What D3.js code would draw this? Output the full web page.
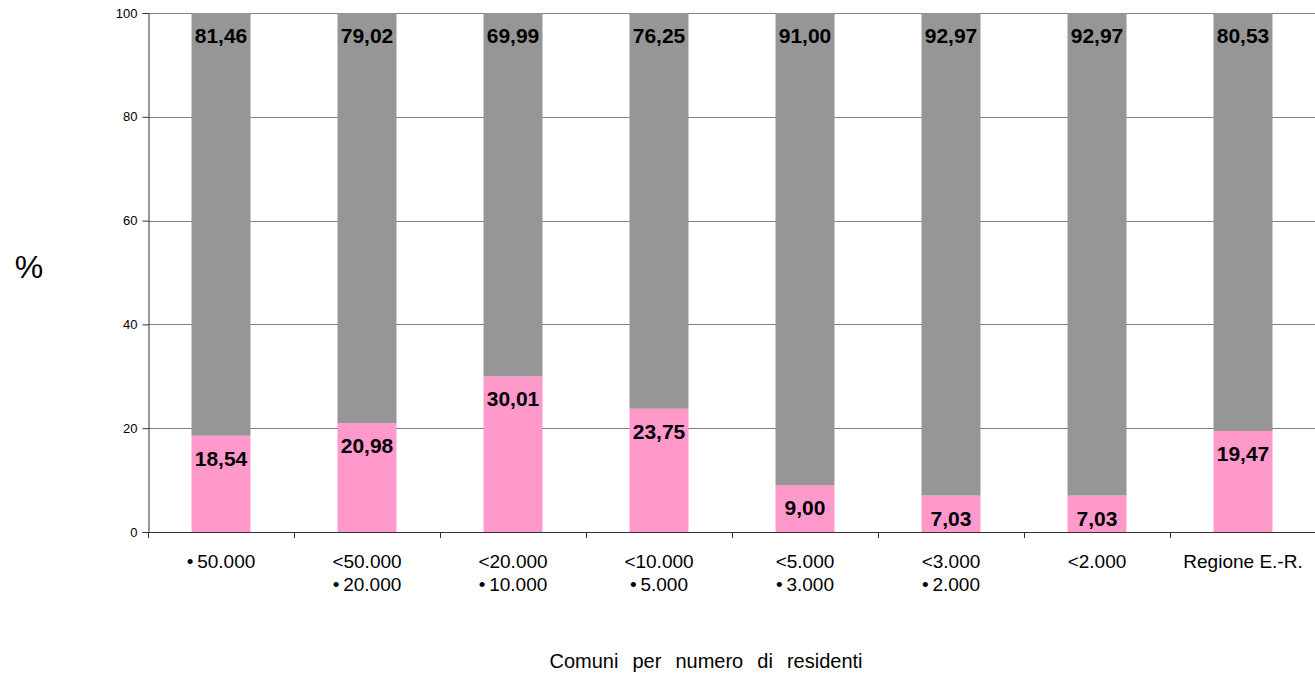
<!DOCTYPE html>
<html><head><meta charset="utf-8">
<script src="https://cdn.jsdelivr.net/npm/d3@7"></script>
<style>body{margin:0;background:#fff}svg{display:block}text{font-family:"Liberation Sans",Arial,sans-serif}</style>
</head><body><svg id="c" width="1315" height="675"></svg>
<script>
const categories = [["\u2022\u200950.000"],["<50.000","\u2022\u200920.000"],["<20.000","\u2022\u200910.000"],["<10.000","\u2022\u20095.000"],["<5.000","\u2022\u20093.000"],["<3.000","\u2022\u20092.000"],["<2.000"],["Regione E.-R."]];
const pinkValues = [18.54,20.98,30.01,23.75,9.00,7.03,7.03,19.47];
const greyValues = [81.46,79.02,69.99,76.25,91.00,92.97,92.97,80.53];
const yTicks = [0,20,40,60,80,100];
const fmt = v => v.toFixed(2).replace(".", ",");

const svg = d3.select("#c");
const mLeft = 148, mRight = 1316, mTop = 13, mBottom = 532;
const x = d3.scaleBand().domain(d3.range(categories.length)).range([mLeft, mRight]).paddingInner(0.596).paddingOuter(0.298);
const y = d3.scaleLinear().domain([0,100]).range([mBottom, mTop]);

// gridlines
svg.append("g").selectAll("line").data(yTicks.filter(d=>d>0)).join("line")
  .attr("x1", mLeft).attr("x2", 1315).attr("y1", d=>Math.round(y(d))+0.5).attr("y2", d=>Math.round(y(d))+0.5)
  .attr("stroke", "#808080").attr("stroke-width", 1);

// bars
const bw = x.bandwidth();
svg.append("g").selectAll("rect").data(pinkValues).join("rect")
  .attr("x", (d,i)=>x(i)).attr("width", bw).attr("y", d=>y(d)).attr("height", d=>mBottom-y(d)).attr("fill", "#FF99CC");
svg.append("g").selectAll("rect").data(greyValues).join("rect")
  .attr("x", (d,i)=>x(i)).attr("width", bw).attr("y", (d,i)=>y(pinkValues[i]+d)).attr("height", (d,i)=>y(pinkValues[i])-y(pinkValues[i]+d)).attr("fill", "#969696");

// labels
const lab = svg.append("g").attr("font-weight","bold").attr("font-size", 21).attr("text-anchor","middle").attr("fill","#000");
lab.selectAll("text.p").data(pinkValues).join("text").attr("class","p")
  .attr("x",(d,i)=>x(i)+bw/2).attr("y", d=>y(d)+30).text(d=>fmt(d));
lab.selectAll("text.g").data(greyValues).join("text").attr("class","g")
  .attr("x",(d,i)=>x(i)+bw/2).attr("y", (d,i)=>y(pinkValues[i]+d)+30).text(d=>fmt(d));

// y axis
const ya = svg.append("g").attr("transform", `translate(${mLeft+0.5},0)`)
  .call(d3.axisLeft(y).tickValues(yTicks).tickSize(6).tickPadding(5).tickFormat(d3.format("d")));
ya.select(".domain").attr("stroke","#333");
ya.selectAll(".tick line").attr("stroke","#333");
ya.selectAll("text").attr("font-size", 13).attr("fill","#000").attr("font-family","Liberation Sans, Arial, sans-serif");

// x axis
svg.append("line").attr("x1", mLeft).attr("x2", 1315).attr("y1", mBottom+0.5).attr("y2", mBottom+0.5).attr("stroke","#333");
svg.append("g").selectAll("line").data(d3.range(categories.length)).join("line")
  .attr("x1", i=>Math.round(x(i)-x.step()*x.paddingInner()/2)+0.5).attr("x2", i=>Math.round(x(i)-x.step()*x.paddingInner()/2)+0.5)
  .attr("y1", mBottom).attr("y2", mBottom+6).attr("stroke","#333");
const xl = svg.append("g").attr("font-size", 19).attr("text-anchor","middle").attr("fill","#000");
categories.forEach((c,i)=>{
  c.forEach((s,j)=>{
    xl.append("text").attr("x", x(i)+bw/2).attr("y", 568 + j*23).text(s);
  });
});

// titles
svg.append("text").attr("x", 706).attr("y", 668).attr("text-anchor","middle").attr("font-size",20)
  .attr("word-spacing", 8.5).text("Comuni per numero di residenti");
svg.append("text").attr("x", 29).attr("y", 278).attr("text-anchor","middle").attr("font-size",32).text("%");
</script></body></html>
